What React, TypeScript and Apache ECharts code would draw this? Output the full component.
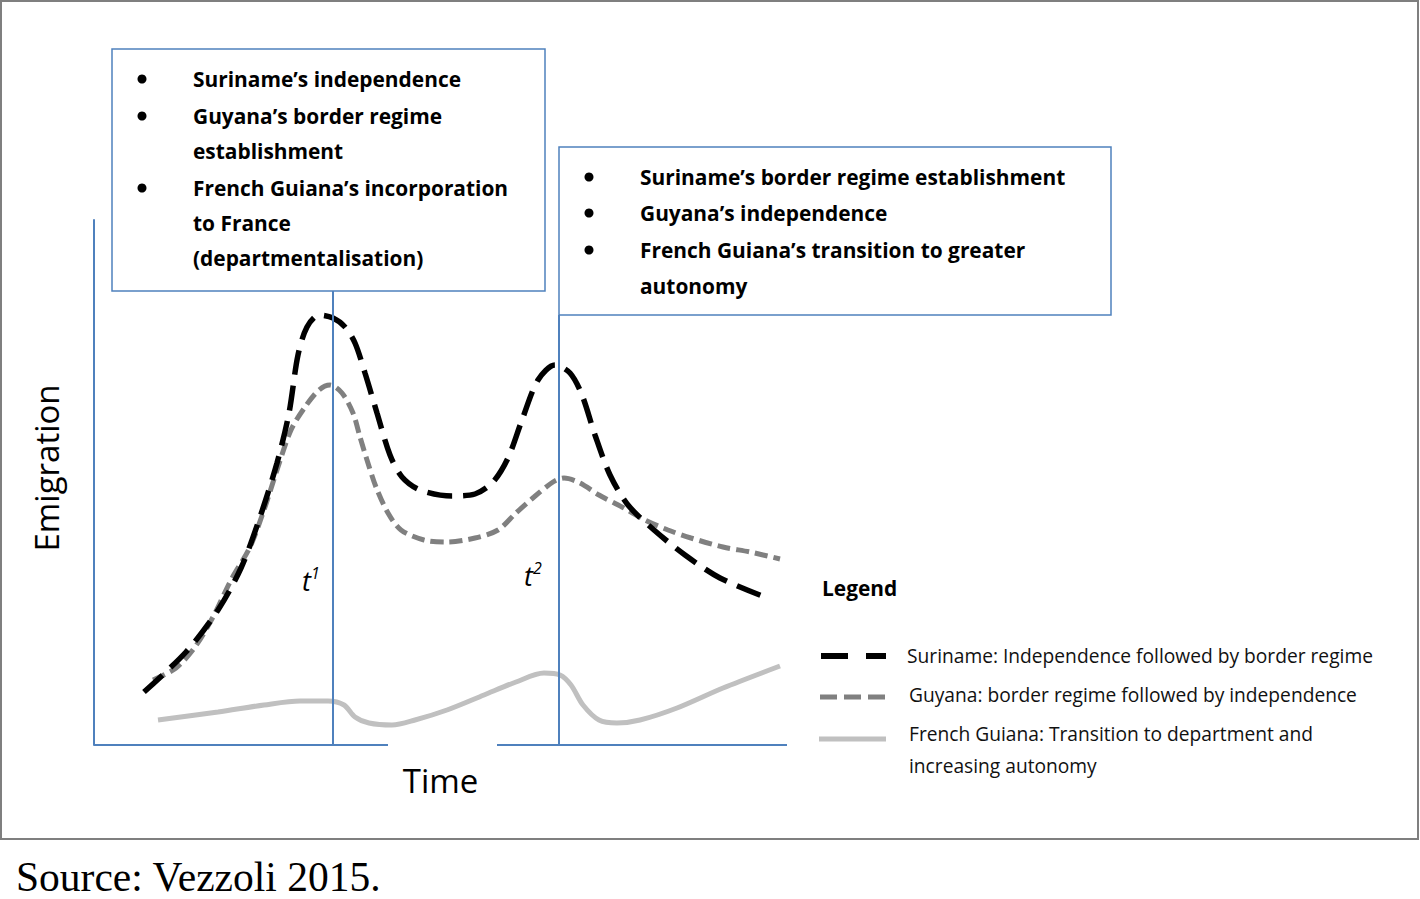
import React, { useEffect, useRef } from "react";
import * as echarts from "echarts";

// Conceptual chart: x = time units, y = emigration units
const surinameData: [number, number][] = [
  [50, 53], [92, 93], [124, 135], [147, 177], [165, 225], [183, 282], [195, 332], [204, 390],
  [213, 418], [225, 430], [239, 427], [251, 418], [261, 402], [271, 372], [283, 332], [296, 290],
  [308, 268], [326, 255], [358, 249], [381, 251], [399, 263], [414, 287], [428, 325], [444, 365],
  [461, 380], [476, 372], [488, 350], [501, 310], [516, 270], [534, 240], [560, 215], [591, 190],
  [626, 167], [676, 146],
];
const guyanaData: [number, number][] = [
  [59, 65], [82, 77], [101, 98], [119, 128], [137, 165], [156, 198], [170, 235], [183, 275],
  [197, 315], [211, 338], [225, 355], [236, 360], [248, 352], [259, 332], [266, 308], [273, 285],
  [282, 258], [294, 232], [307, 215], [330, 205], [353, 203], [381, 207], [404, 215], [422, 232],
  [440, 248], [459, 263], [470, 267], [486, 262], [505, 250], [528, 238], [551, 225], [574, 215],
  [597, 207], [629, 198], [656, 193], [686, 186],
];
const frenchGuianaData: [number, number][] = [
  [64, 25], [124, 33], [170, 40], [206, 44], [234, 44], [250, 40], [261, 28], [275, 22],
  [298, 20], [321, 25], [353, 35], [390, 50], [422, 63], [450, 72], [466, 70], [477, 60],
  [489, 40], [505, 25], [523, 22], [546, 25], [583, 37], [629, 57], [686, 79],
];
// time markers and their line tops
const markerX = [239, 465];
const markerTop = [455, 430];
const markerLabels = ["1", "2"];
// broken time axis segments
const axisSegments: [number, number][] = [[0, 294], [403, 693]];

const seriesNames = [
  "Suriname: Independence followed by border regime",
  "Guyana: border regime followed by independence",
  "French Guiana: Transition to department and increasing autonomy",
];

const box1Lines = [
  { text: "Suriname’s independence", bullet: true },
  { text: "Guyana’s border regime", bullet: true },
  { text: "establishment", bullet: false },
  { text: "French Guiana’s incorporation", bullet: true },
  { text: "to France", bullet: false },
  { text: "(departmentalisation)", bullet: false },
];
const box2Lines = [
  { text: "Suriname’s border regime establishment", bullet: true },
  { text: "Guyana’s independence", bullet: true },
  { text: "French Guiana’s transition to greater", bullet: true },
  { text: "autonomy", bullet: false },
];

const BLUE = "#4f81bd";
const FONT = "'Open Sans'";

export default function App() {
  const ref = useRef<HTMLDivElement>(null);
  useEffect(() => {
    if (!ref.current) return;
    const chart = echarts.init(ref.current, undefined, { renderer: "svg" });

    const graphics: any[] = [];
    graphics.push({
      type: "rect", shape: { x: 1, y: 1, width: 1417, height: 838 },
      style: { fill: "none", stroke: "#7f7f7f", lineWidth: 2 }, z: 1,
    });
    const addBox = (x: number, y: number, w: number, h: number, lines: any[], ys: number[], bx: number, tx: number) => {
      graphics.push({
        type: "rect", shape: { x, y, width: w, height: h },
        style: { fill: "#fff", stroke: BLUE, lineWidth: 1.5 }, z: 10,
      });
      lines.forEach((l, i) => {
        if (l.bullet) {
          graphics.push({ type: "circle", shape: { cx: bx, cy: ys[i], r: 4.5 }, style: { fill: "#000" }, z: 11 });
        }
        graphics.push({
          type: "text", x: tx, y: ys[i], z: 11,
          style: { text: l.text, fill: "#000", font: `bold 20.9px ${FONT}`, verticalAlign: "middle", align: "left" },
        });
      });
    };
    addBox(112, 49, 433, 242, box1Lines, [79, 116, 151, 188, 223, 258], 142, 193);
    addBox(559, 147, 552, 168, box2Lines, [177, 213, 250, 286], 589, 640);

    graphics.push({
      type: "text", x: 46, y: 468, rotation: Math.PI / 2, z: 11,
      style: { text: "Emigration", fill: "#000", font: `33px ${FONT}`, align: "center", verticalAlign: "middle" },
    });
    const tPos = [[302, 580], [524, 575]];
    markerLabels.forEach((m, i) => {
      graphics.push({
        type: "text", x: tPos[i][0], y: tPos[i][1], z: 11,
        style: {
          text: `{a|t}{b|${m}}`, verticalAlign: "middle",
          rich: {
            a: { font: `italic 27px ${FONT}`, fill: "#000" },
            b: { font: `italic 16px ${FONT}`, fill: "#000", verticalAlign: "top", padding: [0, 0, 14, 0] },
          },
        },
      });
    });
    // legend
    graphics.push({
      type: "text", x: 822, y: 588, z: 11,
      style: { text: "Legend", fill: "#000", font: `bold 20.9px ${FONT}`, verticalAlign: "middle" },
    });
    graphics.push({ type: "line", shape: { x1: 821, y1: 656, x2: 886, y2: 656 }, style: { stroke: "#000", lineWidth: 6, lineDash: [27, 18] }, z: 11 });
    graphics.push({ type: "line", shape: { x1: 820, y1: 697, x2: 888, y2: 697 }, style: { stroke: "#808080", lineWidth: 5, lineDash: [17, 7] }, z: 11 });
    graphics.push({ type: "line", shape: { x1: 819, y1: 739, x2: 886, y2: 739 }, style: { stroke: "#c0c0c0", lineWidth: 5 }, z: 11 });
    const legTexts = [
      { t: "Suriname: Independence followed by border regime", x: 907, y: 655 },
      { t: "Guyana: border regime followed by independence", x: 909, y: 694 },
      { t: "French Guiana: Transition to department and", x: 909, y: 733 },
      { t: "increasing autonomy", x: 909, y: 765 },
    ];
    legTexts.forEach((l) => {
      graphics.push({
        type: "text", x: l.x, y: l.y, z: 11,
        style: { text: l.t, fill: "#111", font: `19.2px ${FONT}`, verticalAlign: "middle" },
      });
    });
    graphics.push({
      type: "text", x: 16, y: 877, z: 11,
      style: { text: "Source: Vezzoli 2015.", fill: "#000", font: `41.5px "Liberation Serif"`, verticalAlign: "middle" },
    });

    const markLineData: any[] = [];
    axisSegments.forEach(([a, b]) => markLineData.push([{ coord: [a, 0] }, { coord: [b, 0] }]));
    markerX.forEach((x, i) => markLineData.push([{ coord: [x, 0] }, { coord: [x, markerTop[i]] }]));

    chart.setOption({
      animation: false,
      grid: { left: 94, top: 220, width: 693, height: 525 },
      xAxis: {
        type: "value", min: 0, max: 693,
        name: "Time", nameLocation: "middle", nameGap: 19,
        nameTextStyle: { fontFamily: "Open Sans", fontSize: 33, color: "#000", verticalAlign: "top" },
        axisLine: { show: false }, axisTick: { show: false }, axisLabel: { show: false }, splitLine: { show: false },
      },
      yAxis: {
        type: "value", min: 0, max: 525,
        axisLine: { show: true, lineStyle: { color: BLUE, width: 2 } },
        axisTick: { show: false }, axisLabel: { show: false }, splitLine: { show: false },
      },
      series: [
        {
          name: seriesNames[2], type: "line", data: frenchGuianaData, smooth: 0.3, symbol: "none",
          lineStyle: { color: "#c0c0c0", width: 5 },
          markLine: {
            silent: true, symbol: "none", label: { show: false },
            lineStyle: { color: BLUE, width: 2, type: "solid" },
            data: markLineData,
          },
        },
        {
          name: seriesNames[1], type: "line", data: guyanaData, smooth: 0.3, symbol: "none",
          lineStyle: { color: "#808080", width: 5, type: [13, 6] },
        },
        {
          name: seriesNames[0], type: "line", data: surinameData, smooth: 0.3, symbol: "none",
          lineStyle: { color: "#000", width: 5.5, type: [25, 11] },
        },
      ],
      graphic: graphics,
    });
    return () => chart.dispose();
  }, []);
  return <div ref={ref} style={{ position: "fixed", left: 0, top: 0, width: 1420, height: 899, background: "#fff" }} />;
}
